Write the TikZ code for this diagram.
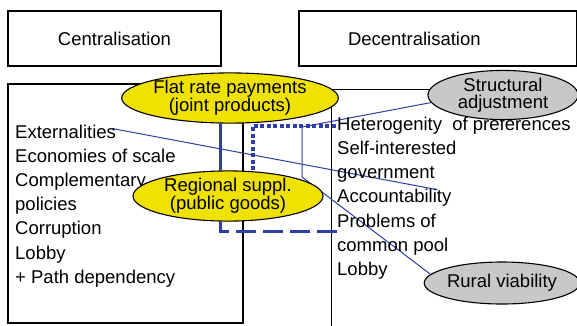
\documentclass[tikz,border=0pt]{standalone}
\usepackage{fontspec}
\setmainfont{Liberation Sans}
\usepackage{tikz}
\usetikzlibrary{shapes.geometric}
\usetikzlibrary{backgrounds}
\definecolor{linkblue}{RGB}{46,62,165}
\definecolor{ovalyellow}{RGB}{240,226,0}
\definecolor{ovalgray}{RGB}{200,200,200}

\begin{document}
\begin{tikzpicture}[x=1pt,y=-1pt,
    font=\fontsize{18.5}{24}\selectfont,
    titlebox/.style={draw,line width=1.2pt,minimum height=55pt,inner sep=0pt},
    listbox/.style={draw,line width=1.2pt,inner sep=0pt},
    item/.style={anchor=base west,inner sep=0pt,text height=13pt,text depth=4pt},
    oval/.style={ellipse,draw,line width=1.1pt,inner sep=0pt,align=center,
      font=\fontsize{18.5}{16.5}\selectfont},
    thinlink/.style={linkblue,line width=1pt},
    thicklink/.style={linkblue,line width=3pt},
    dashlink/.style={linkblue,line width=3pt,dash pattern=on 20pt off 7pt},
    dotlink/.style={linkblue,line width=4pt,dash pattern=on 4pt off 2.5pt}]

      \path[use as bounding box,clip] (0,0) rectangle (577,325);

      % headings
      \node[titlebox,minimum width=213pt]  (central) at (114.5,38.5) {Centralisation};
      \node[titlebox,minimum width=278pt,text width=180pt,inner xsep=49pt,align=left]
                                           (decentral) at (438,38.5) {Decentralisation};

      % centralisation arguments
      \node[item] (ext)  at (15,138)   {Externalities};
      \node[item] (eco)  at (15,162.2) {Economies of scale};
      \node[item] (comp) at (15,186.4) {Complementary};
      \node[item] (pol)  at (15,210.6) {policies};
      \node[item] (corr) at (15,234.8) {Corruption};
      \node[item] (lobc) at (15,259)   {Lobby};
      \node[item] (path) at (15,283.2) {+ Path dependency};

      % decentralisation arguments
      \node[item] (het)  at (337,130)   {Heterogenity\ \ of preferences};
      \node[item] (self) at (337,154.3) {Self-interested};
      \node[item] (gov)  at (337,178.6) {government};
      \node[item] (acc)  at (337,202.9) {Accountability};
      \node[item] (prob) at (337,227.2) {Problems of};
      \node[item] (pool) at (337,251.5) {common pool};
      \node[item] (lobd) at (337,275.8) {Lobby};

      % measures
      \node[oval,fill=ovalyellow,minimum width=186pt,minimum height=48pt] (flat) at (230,98)
            {Flat rate payments\\(joint products)};
      \node[oval,fill=ovalyellow,minimum width=190pt,minimum height=49pt] (reg)  at (228,196)
            {Regional suppl.\\(public goods)};
      \node[oval,fill=ovalgray,minimum width=150pt,minimum height=39pt,
            font=\fontsize{18.5}{17.5}\selectfont]                        (sa)   at (503,95)
            {Structural\\adjustment};
      \node[oval,fill=ovalgray,minimum width=150pt,minimum height=42pt]  (rv)   at (502,283)
            {Rural viability};

      \coordinate (sa bend)  at (302,127);
      \coordinate (rv bend)  at (302,177);

      \begin{pgfonlayer}{background}
      % frames
      \node[listbox,minimum width=235pt,minimum height=239pt] (cbox) at (125.5,203.5) {};
      \node[listbox,minimum width=260pt,minimum height=250pt,anchor=north west] (dbox) at (331,89) {};

      % links
      \draw[thinlink] ([xshift=-4pt,yshift=5pt]ext.east) -- ([xshift=-14pt]acc.north east);
      \draw[thicklink] ([xshift=-10pt]flat.south) -- ([xshift=-8pt]reg.north);
      \draw[dashlink] ([yshift=-9pt]prob.west) -| ([xshift=-8pt]reg.south);
      \draw[dotlink] ([xshift=25pt]reg.north) |- (het.west);
      \draw[thinlink] (sa.186) -- (sa bend) -- (rv bend) -- (rv.173);
      \end{pgfonlayer}
    \end{tikzpicture}
\end{document}
